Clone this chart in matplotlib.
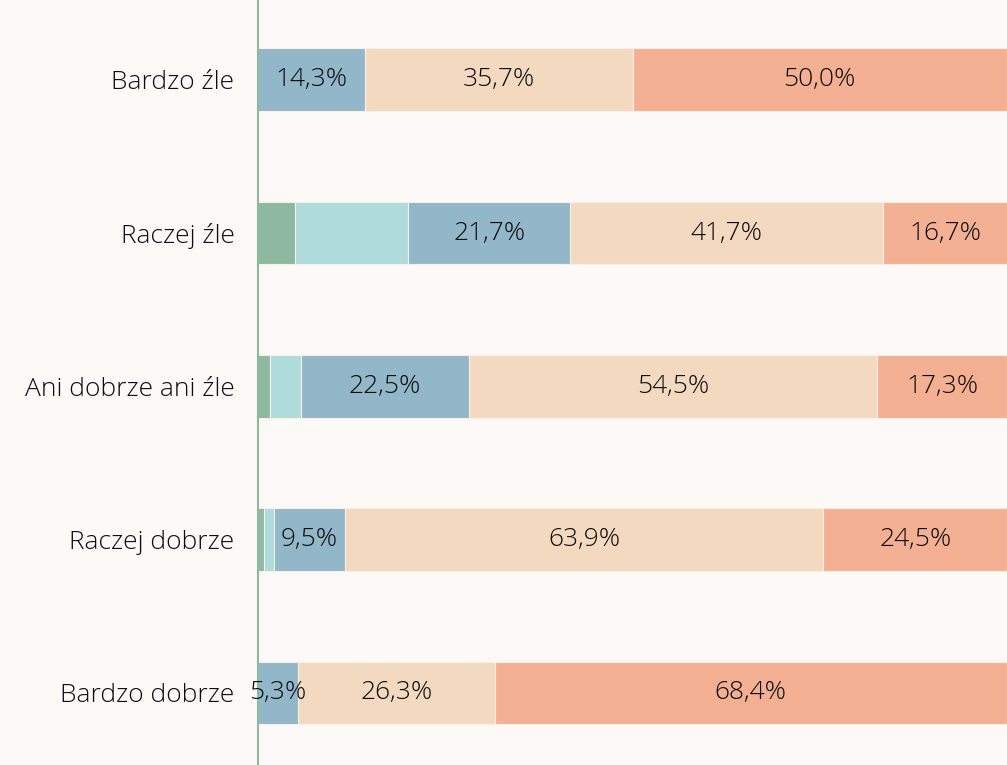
import matplotlib.pyplot as plt
import numpy as np

plt.rcParams['font.family'] = ['Open Sans', 'DejaVu Sans']

# kategorie (od góry)
kategorie = ["Bardzo źle", "Raczej źle", "Ani dobrze ani źle", "Raczej dobrze", "Bardzo dobrze"]

# udziały serii (%) dla każdej kategorii
seria1 = [0.0, 5.0, 1.6, 0.8, 0.0]
seria2 = [0.0, 15.0, 4.1, 1.3, 0.0]
seria3 = [14.3, 21.7, 22.5, 9.5, 5.3]
seria4 = [35.7, 41.7, 54.5, 63.9, 26.3]
seria5 = [50.0, 16.7, 17.3, 24.5, 68.4]

serie = [seria1, seria2, seria3, seria4, seria5]
kolory = ["#8db9a0", "#addcda", "#92b7c8", "#f3d9c0", "#f4b093"]
z_etykieta = [False, False, True, True, True]

tlo = "#fdf9f6"
rozmiar = 19

fig = plt.figure(figsize=(10.07, 7.65), dpi=100, facecolor=tlo)
ax = fig.add_axes([258/1007, 0, 1 - 258/1007, 1])
ax.set_facecolor(tlo)

y = np.arange(len(kategorie))
lewo = np.zeros(len(kategorie))
for s, kol, lab in zip(serie, kolory, z_etykieta):
    wart = np.array(s)
    ax.barh(y, wart, left=lewo, height=0.41, color=kol,
            edgecolor="#fbeee6", linewidth=0.8)
    if lab:
        for yi, l, w in zip(y, lewo, wart):
            if w > 0:
                ax.text(l + w / 2, yi, f"{w:.1f}%".replace(".", ","),
                        ha="center", va="center", fontsize=rozmiar,
                        fontweight="light", color="#0d0d0d",
                        zorder=10, clip_on=False)
    lewo += wart

ax.set_xlim(0, 100)
ax.set_ylim(4.47, -0.52)
ax.set_yticks(y)
ax.set_yticklabels(kategorie, fontsize=rozmiar, fontweight="light", color="#0d0d0d")
ax.tick_params(axis="y", length=0, pad=17)
ax.set_xticks([])
for k in ["top", "right", "bottom"]:
    ax.spines[k].set_visible(False)
ax.spines["left"].set_color("#8db9a0")
ax.spines["left"].set_linewidth(1.5)
ax.spines["left"].set_zorder(5)

fig.savefig("out.png", dpi=100, facecolor=tlo)
